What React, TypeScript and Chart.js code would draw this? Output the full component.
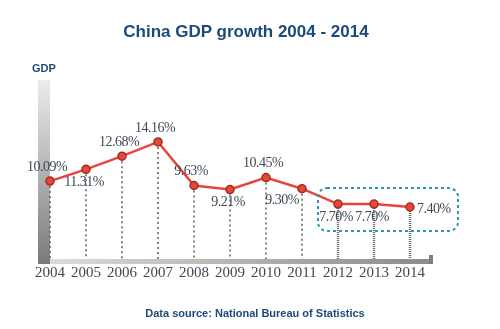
import React, { useEffect, useRef } from "react";
import { Chart, registerables } from "chart.js";

Chart.register(...registerables);

const years = ["2004", "2005", "2006", "2007", "2008", "2009", "2010", "2011", "2012", "2013", "2014"];
const growth = [10.09, 11.31, 12.68, 14.16, 9.63, 9.21, 10.45, 9.3, 7.7, 7.7, 7.4];
const labelSides = ["above", "below", "above", "above", "above", "below", "above", "belowLeft", "below", "below", "right"];
const highlightFrom = "2012";
const highlightTo = "2014";

const TEXT = "#3e4b57";
const BLUE = "#1c4a7a";

const decorPlugin = {
  id: "decor",
  beforeDatasetsDraw(chart: any) {
    const { ctx, chartArea } = chart;
    const meta = chart.getDatasetMeta(0);
    const axisY = chartArea.bottom;
    const gv = ctx.createLinearGradient(0, 80, 0, axisY + 5);
    gv.addColorStop(0, "#ececec");
    gv.addColorStop(1, "#7a7a7a");
    ctx.save();
    ctx.fillStyle = gv;
    ctx.fillRect(chartArea.left - 12, 80, 12, axisY + 5 - 80);
    const right = chartArea.right + 22;
    const gh = ctx.createLinearGradient(chartArea.left, 0, right, 0);
    gh.addColorStop(0, "#dcdcdc");
    gh.addColorStop(1, "#8a8a8a");
    ctx.fillStyle = gh;
    ctx.fillRect(chartArea.left, axisY, right - chartArea.left, 5);
    ctx.fillStyle = "#7d7d7d";
    ctx.fillRect(right - 3, axisY - 4, 4, 9);
    meta.data.forEach((pt: any, i: number) => {
      const heavy = i >= years.indexOf(highlightFrom);
      ctx.strokeStyle = "#666";
      ctx.lineWidth = heavy ? 2.5 : 1.6;
      ctx.setLineDash(heavy ? [1, 1] : [2, 3]);
      ctx.beginPath();
      ctx.moveTo(pt.x, pt.y);
      ctx.lineTo(pt.x, axisY);
      ctx.stroke();
    });
    ctx.setLineDash([]);
    ctx.restore();
  },
  afterDatasetsDraw(chart: any) {
    const { ctx } = chart;
    const meta = chart.getDatasetMeta(0);
    ctx.save();
    ctx.font = "14px 'Liberation Serif'";
    try { ctx.letterSpacing = "-0.5px"; } catch (e) {}
    ctx.fillStyle = TEXT;
    ctx.textBaseline = "middle";
    meta.data.forEach((pt: any, i: number) => {
      const txt = growth[i].toFixed(2) + "%";
      const side = labelSides[i];
      let x = pt.x, y = pt.y;
      ctx.textAlign = "center";
      if (side === "above") { y -= 14; x -= 3; }
      else if (side === "below") { y += 13; x -= 2; }
      else if (side === "belowLeft") { y += 12; x -= 20; }
      else if (side === "right") { ctx.textAlign = "left"; x += 7; y += 2; }
      ctx.fillText(txt, x, y);
    });
    try { ctx.letterSpacing = "0px"; } catch (e) {}
    const a = meta.data[years.indexOf(highlightFrom)];
    const b = meta.data[years.indexOf(highlightTo)];
    const x0 = a.x - 20, x1 = b.x + 48, y0 = a.y - 16, y1 = b.y + 24;
    ctx.strokeStyle = "#2b98b3";
    ctx.lineWidth = 2;
    ctx.setLineDash([3, 3]);
    ctx.beginPath();
    ctx.roundRect(x0, y0, x1 - x0, y1 - y0, 9);
    ctx.stroke();
    ctx.restore();
  },
};

export default function App() {
  const ref = useRef<HTMLCanvasElement>(null);
  useEffect(() => {
    document.body.style.margin = "0";
    const chart = new Chart(ref.current!, {
      type: "line",
      data: {
        labels: years,
        datasets: [
          {
            data: growth,
            borderColor: "#e8453c",
            borderWidth: 2.5,
            pointBackgroundColor: "#e0493d",
            pointBorderColor: "#a82a20",
            pointBorderWidth: 1.5,
            pointRadius: 4,
            tension: 0,
          },
        ],
      },
      options: {
        animation: false,
        responsive: false,
        layout: { padding: { left: 50, right: 90, top: 76, bottom: 42 } },
        plugins: {
          legend: { display: false },
          tooltip: { enabled: false },
          title: { display: false },
        },
        scales: {
          x: {
            offset: false,
            grid: { display: false, drawTicks: false },
            border: { display: false },
            ticks: {
              color: TEXT,
              font: { family: "'Liberation Serif'", size: 15 },
              padding: 5,
              maxRotation: 0,
              autoSkip: false,
            },
          },
          y: { display: false, min: 2, max: 21 },
        },
      },
      plugins: [decorPlugin],
    });
    return () => chart.destroy();
  }, []);
  return (
    <div style={{ position: "relative", width: 500, height: 329, background: "#fff" }}>
      <canvas ref={ref} width={500} height={329} />
      <div style={{ position: "absolute", left: 0, width: 492, top: 22, textAlign: "center", fontFamily: "Arial, 'Liberation Sans'", fontWeight: "bold", fontSize: 17, color: BLUE }}>China GDP growth 2004 - 2014</div>
      <div style={{ position: "absolute", left: 32, top: 62, fontFamily: "Arial, 'Liberation Sans'", fontWeight: "bold", fontSize: 11, color: BLUE }}>GDP</div>
      <div style={{ position: "absolute", left: 0, width: 510, top: 307, textAlign: "center", fontFamily: "Arial, 'Liberation Sans'", fontWeight: "bold", fontSize: 11, color: BLUE }}>Data source: National Bureau of Statistics</div>
    </div>
  );
}
